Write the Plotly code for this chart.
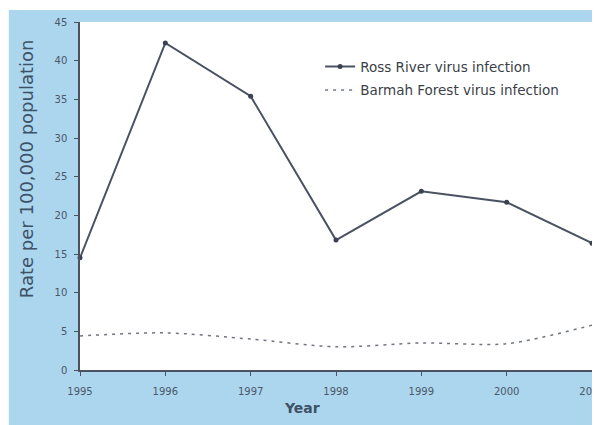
import plotly.graph_objects as go

years = [1995, 1996, 1997, 1998, 1999, 2000, 2001]
ross_river = [14.5, 42.3, 35.4, 16.8, 23.1, 21.7, 16.4]
barmah_forest = [4.4, 4.8, 4.0, 3.0, 3.5, 3.4, 5.8]
y_ticks = [0, 5, 10, 15, 20, 25, 30, 35, 40, 45]

# the page body adds an 8px margin, so the figure is sized/offset to fit the window
fig = go.Figure()

# Ross River: solid line with small dot markers
fig.add_trace(go.Scatter(
    x=years, y=ross_river, mode="lines+markers",
    name="Ross River virus infection", legendgroup="rr",
    line=dict(color="#4a5262", width=2),
    marker=dict(color="#3a4252", size=5),
    cliponaxis=False,
))

# Barmah Forest: smoothed dashed grey line
fig.add_trace(go.Scatter(
    x=years, y=barmah_forest, mode="lines",
    name="Barmah Forest virus infection", legendgroup="bf",
    line=dict(color="#6f767e", width=1.5, dash="3px,5px", shape="spline", smoothing=0.8),
    cliponaxis=False,
))

fig.update_layout(
    width=592, height=417,
    margin=dict(l=72, r=8, t=14, b=55),
    paper_bgcolor="white",
    plot_bgcolor="white",
    font=dict(family="DejaVu Sans, sans-serif", color="#4a5868"),
    showlegend=True,
    legend=dict(
        x=0.469, y=0.916, xanchor="left", yanchor="top",
        bgcolor="rgba(0,0,0,0)",
        font=dict(size=13.5, color="#3a3f48"),
        traceorder="grouped", tracegroupgap=3,
    ),
    shapes=[
        # light blue frame behind everything
        dict(type="rect", xref="paper", yref="paper", x0=-0.139, x1=1.05, y0=-0.2, y1=1.0345,
             fillcolor="#acd5ee", line=dict(width=0), layer="below"),
        # white plotting area
        dict(type="rect", xref="paper", yref="paper", x0=0, x1=1, y0=0, y1=1,
             fillcolor="white", line=dict(width=0), layer="below"),
    ],
    annotations=[
        dict(text="Rate per 100,000 population", xref="paper", yref="paper",
             x=-0.1055, y=0.58, xanchor="center", yanchor="middle", textangle=-90,
             showarrow=False, font=dict(size=18, color="#3d5266")),
        dict(text="<b>Year</b>", xref="paper", yref="paper",
             x=0.4336, y=-0.109, xanchor="center", yanchor="middle",
             showarrow=False, font=dict(size=14, color="#3d5266")),
    ],
)

fig.update_xaxes(
    range=[1995, 2001], tickvals=years, ticktext=[str(y) for y in years],
    showgrid=False, zeroline=False,
    showline=True, linecolor="#4a5262", linewidth=1.5,
    ticks="outside", ticklen=4, tickcolor="#4a5262",
    ticklabelstandoff=7, ticklabeloverflow="allow", automargin=False,
    tickfont=dict(size=10, color="#4a5868"),
)
fig.update_yaxes(
    range=[0, 45], tickvals=y_ticks,
    showgrid=False, zeroline=False,
    showline=True, linecolor="#4a5262", linewidth=1.5,
    ticks="outside", ticklen=4, tickcolor="#4a5262",
    ticklabelstandoff=5, automargin=False,
    tickfont=dict(size=10, color="#4a5868"),
)

fig.write_html("out.html")
